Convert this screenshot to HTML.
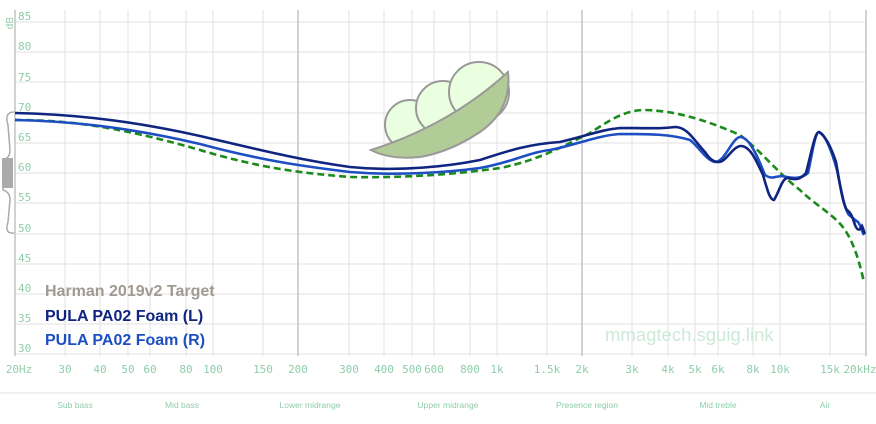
<!DOCTYPE html>
<html><head><meta charset="utf-8"><style>
body{margin:0;background:#fff;width:876px;height:419px;overflow:hidden}
.m{font-family:"DejaVu Sans Mono","Liberation Mono",monospace}
.s{font-family:"Liberation Sans",Arial,sans-serif}
</style></head><body>
<svg width="876" height="419" viewBox="0 0 876 419" xmlns="http://www.w3.org/2000/svg">
<g stroke="#ececec" stroke-width="1.5">
<line x1="15" x2="866" y1="22" y2="22"/><line x1="15" x2="866" y1="52" y2="52"/><line x1="15" x2="866" y1="82" y2="82"/><line x1="15" x2="866" y1="113" y2="113"/><line x1="15" x2="866" y1="143" y2="143"/><line x1="15" x2="866" y1="173" y2="173"/><line x1="15" x2="866" y1="203" y2="203"/><line x1="15" x2="866" y1="234" y2="234"/><line x1="15" x2="866" y1="264" y2="264"/><line x1="15" x2="866" y1="294" y2="294"/><line x1="15" x2="866" y1="324" y2="324"/><line x1="15" x2="866" y1="354" y2="354"/>
</g>
<g stroke="#e2e2e2" stroke-width="1">
<line x1="65" x2="65" y1="10" y2="356"/><line x1="100" x2="100" y1="10" y2="356"/><line x1="128" x2="128" y1="10" y2="356"/><line x1="150" x2="150" y1="10" y2="356"/><line x1="186" x2="186" y1="10" y2="356"/><line x1="213" x2="213" y1="10" y2="356"/><line x1="263" x2="263" y1="10" y2="356"/><line x1="349" x2="349" y1="10" y2="356"/><line x1="384" x2="384" y1="10" y2="356"/><line x1="412" x2="412" y1="10" y2="356"/><line x1="434" x2="434" y1="10" y2="356"/><line x1="470" x2="470" y1="10" y2="356"/><line x1="497" x2="497" y1="10" y2="356"/><line x1="547" x2="547" y1="10" y2="356"/><line x1="632" x2="632" y1="10" y2="356"/><line x1="668" x2="668" y1="10" y2="356"/><line x1="695" x2="695" y1="10" y2="356"/><line x1="718" x2="718" y1="10" y2="356"/><line x1="753" x2="753" y1="10" y2="356"/><line x1="780" x2="780" y1="10" y2="356"/><line x1="830" x2="830" y1="10" y2="356"/>
</g>
<g stroke="#c4c4c4" stroke-width="1.5">
<line x1="15" x2="15" y1="10" y2="356"/><line x1="298" x2="298" y1="10" y2="356"/><line x1="582" x2="582" y1="10" y2="356"/><line x1="866" x2="866" y1="10" y2="356"/>
</g>
<path d="M14 112 Q4 112 8 125 L10 150 Q10 158 3 160 L3 190 Q10 192 10 200 L8 222 Q4 234 14 233" fill="none" stroke="#aaa" stroke-width="1.5"/>
<rect x="2" y="158" width="11" height="30" fill="#aaa"/>
<g fill="#8fcdab" font-size="11" class="m">
<text class="m" x="18" y="20">85</text><text class="m" x="18" y="50">80</text><text class="m" x="18" y="81">75</text><text class="m" x="18" y="111">70</text><text class="m" x="18" y="141">65</text><text class="m" x="18" y="171">60</text><text class="m" x="18" y="201">55</text><text class="m" x="18" y="232">50</text><text class="m" x="18" y="262">45</text><text class="m" x="18" y="292">40</text><text class="m" x="18" y="322">35</text><text class="m" x="18" y="352">30</text>
<text class="s" x="13" y="17" font-size="10" transform="rotate(-90 13 17)" text-anchor="end">dB</text>
</g>
<g fill="#8fcdab" font-size="11" text-anchor="middle">
<text class="m" x="19" y="373">20Hz</text><text class="m" x="65" y="373">30</text><text class="m" x="100" y="373">40</text><text class="m" x="128" y="373">50</text><text class="m" x="150" y="373">60</text><text class="m" x="186" y="373">80</text><text class="m" x="213" y="373">100</text><text class="m" x="263" y="373">150</text><text class="m" x="298" y="373">200</text><text class="m" x="349" y="373">300</text><text class="m" x="384" y="373">400</text><text class="m" x="412" y="373">500</text><text class="m" x="434" y="373">600</text><text class="m" x="470" y="373">800</text><text class="m" x="497" y="373">1k</text><text class="m" x="547" y="373">1.5k</text><text class="m" x="582" y="373">2k</text><text class="m" x="632" y="373">3k</text><text class="m" x="668" y="373">4k</text><text class="m" x="695" y="373">5k</text><text class="m" x="718" y="373">6k</text><text class="m" x="753" y="373">8k</text><text class="m" x="780" y="373">10k</text><text class="m" x="830" y="373">15k</text><text class="m" x="860" y="373">20kHz</text>
</g>
<line x1="0" x2="876" y1="393" y2="393" stroke="#f0f0f0" stroke-width="2"/>
<g fill="#8fcdab" font-size="8.5" text-anchor="middle">
<text class="s" x="75" y="408">Sub bass</text><text class="s" x="182" y="408">Mid bass</text><text class="s" x="310" y="408">Lower midrange</text><text class="s" x="448" y="408">Upper midrange</text><text class="s" x="587" y="408">Presence region</text><text class="s" x="718" y="408">Mid treble</text><text class="s" x="825" y="408">Air</text>
</g>
<g stroke="#999" stroke-width="2" fill="#eaffdf">
<circle cx="410" cy="125" r="25"/><circle cx="443" cy="108" r="27"/><circle cx="479" cy="92" r="30"/>
</g>
<path d="M371 150 Q450 125 508 72 Q512 110 480 132 Q450 152 420 157 Q390 160 371 150 Z" fill="#b2cc98" stroke="#999" stroke-width="2"/>
<text class="s" x="605" y="341" fill="#cde9d9" font-size="18.5">mmagtech.sguig.link</text>
<g fill="none" stroke-width="2.6">
<path d="M15 120 C60 120 110 124 200 150 C260 168 300 173 350 177 C400 178 450 175 500 168 C540 160 565 145 590 133 C610 120 625 110 645 110 C680 111 710 122 740 135 C760 150 780 175 800 190 C815 205 835 215 845 230 C855 245 860 265 864 282" stroke="#1a8a1a" stroke-dasharray="7,4"/>
<path d="M15 120 C60 121 120 125 200 144 C260 160 300 166 350 172 C400 176 450 172 480 168 C510 163 530 152 550 150 C575 145 600 135 620 134 C650 134 670 134 690 140 C700 148 706 160 715 162 C725 162 732 138 740 137 C748 137 755 150 765 175 C772 180 776 176 782 176 C792 178 800 180 808 173 C813 150 815 132 819 132 C826 135 832 152 837 170 C842 195 845 210 849 215 C853 218 855 220 858 222 C861 226 862 232 864 235" stroke="#1d4fc2"/>
<path d="M15 113 C60 114 120 118 200 136 C260 150 300 160 350 167 C400 172 450 166 480 160 C510 150 530 144 560 142 C590 135 600 130 620 128 C650 128 660 129 675 127 C688 127 695 142 705 152 C710 160 714 162 719 162 C726 162 733 146 741 146 C750 146 756 160 763 175 C768 192 770 200 774 200 C780 190 782 178 788 178 C795 180 800 180 806 173 C812 150 815 132 819 132 C826 136 832 150 836 162 C840 185 843 205 847 210 C850 212 852 215 855 225 C858 232 860 230 862 226 C863 228 864 232 865 234" stroke="#0f2580"/>
</g>
<g font-size="16" font-weight="bold">
<text class="s" x="45" y="296" fill="#a19a93">Harman 2019v2 Target</text>
<text class="s" x="45" y="321" fill="#0f2580">PULA PA02 Foam (L)</text>
<text class="s" x="45" y="345" fill="#1d4fc2">PULA PA02 Foam (R)</text>
</g>
</svg>
</body></html>
